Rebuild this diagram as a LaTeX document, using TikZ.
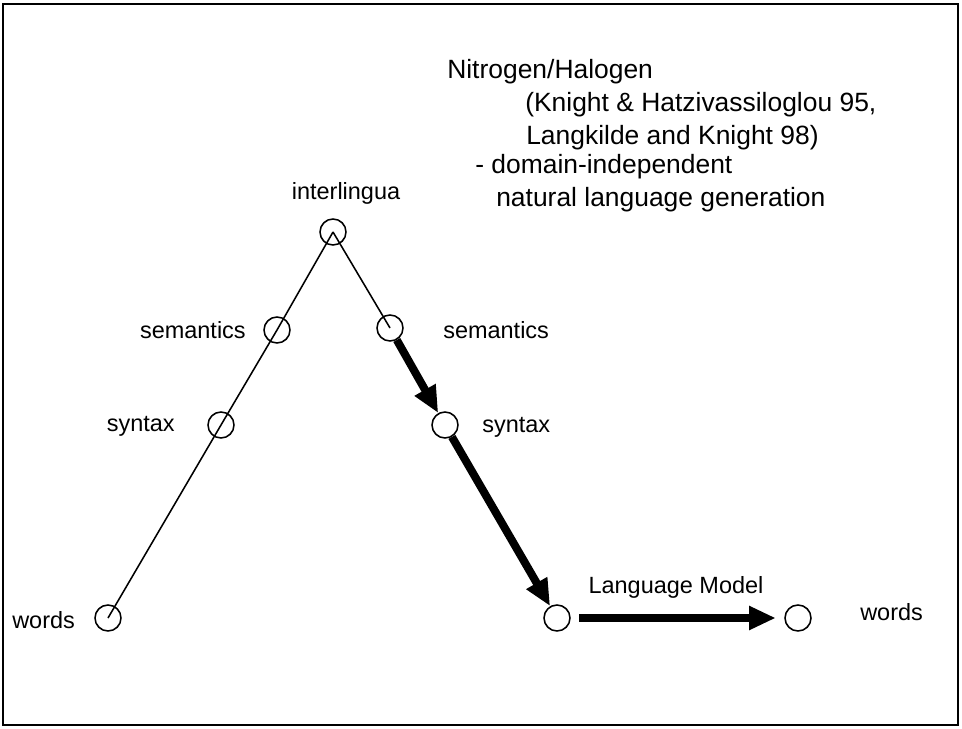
\documentclass[tikz,border=0pt]{standalone}
\usepackage{fontspec}
\setmainfont{Liberation Sans}
\usetikzlibrary{arrows.meta}

\begin{document}
\begin{tikzpicture}[
    stage/.style={circle, draw, line width=1.1pt, minimum size=6.5mm, inner sep=0pt},
    path/.style={line width=1.1pt},
    flow/.style={line width=5.7pt, -{Triangle[length=19pt, width=16pt]}},
    tag/.style={font=\fontsize{16.7}{20}\selectfont, inner sep=0pt},
    note/.style={font=\fontsize{18.8}{23}\selectfont, inner sep=0pt, anchor=west},
]
\useasboundingbox (0,0) rectangle (24.05,18.2);
\draw[line width=2pt] (0.075,0.075) rectangle (23.95,18.1);

% Stage circles of the translation triangle
\foreach \n/\x/\y in {il/8.325/12.4, ls/6.925/9.95, lx/5.525/7.575, lw/2.7/2.75,
                      rs/9.75/10.0, rx/11.125/7.575, rb/13.925/2.75, rw/19.95/2.75}{
  \node[stage] (\n) at (\x,\y) {};
}

% Analysis side and top
\draw[path] (il.center) -- (ls.center) -- (lx.center) -- (lw.center);
\draw[path] (il.center) -- (rs.center);

% Generation path
\draw[flow] (rs) -- (rx);
\draw[flow] (rx) -- (rb);
\draw[flow, shorten <=6pt, shorten >=6pt] (rb) -- (rw);

% Labels
\node[tag] (tIl) at (8.65,13.375) {interlingua};
\node[tag, anchor=east] (tLs) at (6.15,9.95) {semantics};
\node[tag, anchor=east] (tLx) at (4.375,7.55) {syntax};
\node[tag, anchor=west] (tLw) at (0.3,2.7) {words};
\node[tag, anchor=west] (tRs) at (11.075,9.95) {semantics};
\node[tag, anchor=west] (tRx) at (12.05,7.525) {syntax};
\node[tag] (tLm) at (16.9,3.525) {Language Model};
\node[tag, anchor=west] (tRw) at (21.5,2.9) {words};

% System note
\node[note] (n1) at (11.175,16.4) {Nitrogen/Halogen};
\node[note] (n2) at (13.125,15.575) {(Knight \& Hatzivassiloglou 95,};
\node[note] (n3) at (13.15,14.75) {Langkilde and Knight 98)};
\node[note] (n4) at (11.875,14.025) {- domain-independent};
\node[note] (n5) at (12.4,13.2) {natural language generation};
\end{tikzpicture}
\end{document}
